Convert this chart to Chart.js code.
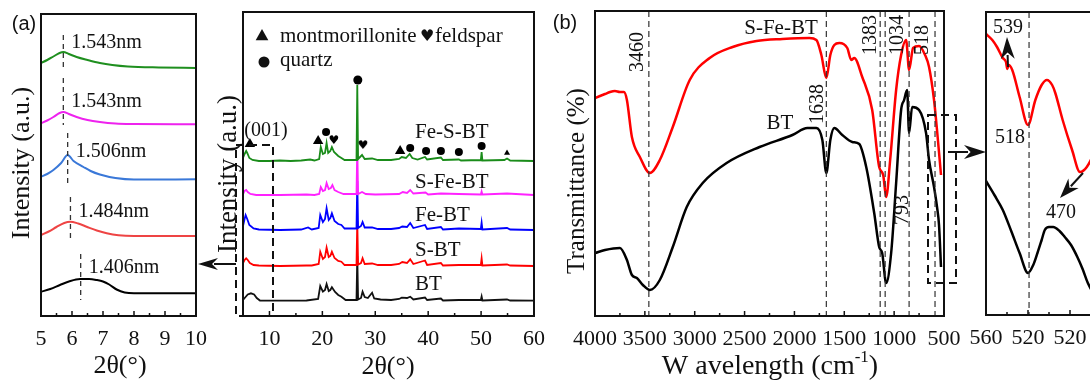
<!DOCTYPE html>
<html lang="en">
<head>
<meta charset="utf-8" />
<title>XRD and FTIR of bentonite samples</title>
<script src="https://cdnjs.cloudflare.com/ajax/libs/Chart.js/4.4.0/chart.umd.js"></script>
<style>
    body { margin: 0; width: 1090px; height: 381px; overflow: hidden; background: #fff; position: relative; }
    canvas { position: absolute; left: 0; top: 0; }
</style>
</head>
<body>
<canvas id="c1" width="1090" height="381"></canvas>
<canvas id="c2" width="1090" height="381"></canvas>
<canvas id="c3" width="1090" height="381"></canvas>
<canvas id="c4" width="1150" height="381"></canvas>
<script>
    // ---- (a) low angle XRD, 2theta vs intensity (a.u., offset)
    const lowGreen = [[5.0,253],[5.2,256],[5.4,259.5],[5.6,263],[5.72,264],[5.9,262],[6.15,259],[6.5,256],[6.9,253],[7.3,251],[7.8,249.5],[8.8,248.5],[10,248]];
    const lowMagenta = [[5.0,192.7],[5.2,195.5],[5.4,199],[5.6,203],[5.72,204],[5.9,202],[6.15,199],[6.5,196],[6.9,194],[7.4,192.5],[8,192],[10,191.7]];
    const lowBlue = [[5.0,139.3],[5.2,142],[5.4,146],[5.65,153],[5.86,161],[6.05,155],[6.37,149],[6.6,145],[6.9,141.5],[7.4,138],[8,136.5],[10,136.7]];
    const lowRed = [[5.0,81],[5.25,84.5],[5.5,89],[5.75,93],[5.94,94.3],[6.2,92.5],[6.47,89.3],[6.8,85.5],[7.12,82.7],[7.5,80.7],[8,80],[10,80]];
    const lowBlack = [[5.0,24.3],[5.3,27],[5.61,31],[5.9,34.5],[6.26,37],[6.55,37],[6.8,36],[7.0,34.5],[7.2,31.5],[7.44,26.5],[7.7,23.5],[8,22.7],[10,22.7]];
    const lowPeaks = [5.72, 5.72, 5.86, 5.95, 6.28];
    const lowLabels = ['1.543nm', '1.543nm', '1.506nm', '1.484nm', '1.406nm'];

    // ---- (a) wide angle XRD
    const xrdSamples = ['Fe-S-BT', 'S-Fe-BT', 'Fe-BT', 'S-BT', 'BT'];
    const xrdGreen = [[5.0,158],[5.3,162],[5.6,165],[5.8,163],[6.2,158],[6.8,156],[8,155],[10,155],[12,155.5],[14,155],[16,155.5],[17.7,156.5],[18.5,155.5],[19.4,157],[19.7,169],[20.1,162],[20.5,163],[20.8,173],[21.1,163],[21.5,165],[21.8,169],[22.2,164],[23,160],[23.6,158],[24.2,156],[26.45,156],[26.6,231],[26.75,157],[27.5,161],[28.0,157],[29.4,157.5],[30.5,156],[33,156],[34.5,157],[35.0,159],[35.8,158],[36.5,162],[37.0,158],[38,156.5],[39.4,159],[39.8,156.5],[42.4,158.5],[42.8,156],[45.8,156.5],[46.2,155.5],[49.95,156],[50.1,164],[50.25,155.5],[54.4,156],[54.9,157.5],[55.5,155.5],[60,155]];
    const xrdMagenta = [[5.0,122],[5.3,125],[5.6,126],[5.9,124],[6.4,122],[7.5,121],[12,121],[17,121.5],[18.5,121],[19.4,122],[19.7,129],[20.1,125],[20.5,126],[20.8,133],[21.2,127],[21.6,128],[21.9,131],[22.3,126],[23,124],[24,122],[26.45,122],[26.6,170],[26.75,122],[27.5,124],[28.2,122],[30,121.5],[34.5,122],[35.2,124],[36,123],[36.6,126],[37.2,122.5],[39.5,123.5],[40,121.5],[42.4,122.5],[45.8,122],[49.95,121.5],[50.1,124.5],[50.25,121.5],[54.9,122.5],[60,121]];
    const xrdBlue = [[5.0,90],[5.3,97],[5.5,101],[5.8,97],[6.2,91],[7,87.5],[8,86.5],[12,86],[16,86.5],[17.3,88.5],[18,86.5],[19.3,88],[19.6,101],[20.1,94],[20.5,97],[20.8,107.7],[21.2,96],[21.5,98],[21.8,102.7],[22.3,95],[23,92],[23.6,91],[24.2,87.5],[26.45,87.5],[26.6,135],[26.75,88],[27.3,90],[27.6,94],[28,88.5],[29.4,88.5],[30.5,87],[33,87],[34.5,88],[35.1,89.5],[36,89],[36.6,93],[37.2,88],[39.4,91],[39.8,87],[42.4,89],[42.8,86.5],[45.8,87.5],[49.95,87],[50.1,93.3],[50.25,86.5],[54.9,88],[55.5,86.5],[60,86]];
    const xrdRed = [[5.0,53],[5.3,56],[5.6,57.7],[5.9,56],[6.3,53],[7,51],[8,50.5],[12,50],[17,50.5],[18,50.5],[19.3,52],[19.6,64.3],[20.1,57],[20.5,59],[20.8,68.3],[21.2,59],[21.5,60],[21.8,64.3],[22.3,58],[23,55],[23.6,54.3],[24.2,51],[26.45,51],[26.6,95],[26.75,51.5],[27.3,53],[27.6,57.7],[28,52],[29.4,52.5],[30.5,51],[33,51],[34.5,52],[35.1,54],[36,53],[36.6,56.7],[37.2,52],[39.4,55.5],[39.8,51],[42.4,53],[42.8,50.5],[45.8,51],[49.95,51],[50.1,57.7],[50.25,50.5],[54.9,51.5],[55.5,50.5],[60,50]];
    const xrdBlack = [[5.0,16],[5.4,18.5],[5.9,21.5],[6.5,22.7],[7.1,21.5],[7.6,18],[8.2,15.5],[12,15.3],[17,15.5],[19.2,17],[19.6,30],[20.1,24.3],[20.5,26],[20.8,32],[21.2,25],[21.5,26],[21.8,28.7],[22.4,24],[23,21],[23.6,19.3],[24.4,16],[26.45,16],[26.6,60],[26.75,16.5],[27.3,18],[27.6,24.3],[28,19],[28.6,18],[29.4,23.3],[29.8,17.5],[31,16.5],[33,16],[34.5,17],[35,18.3],[36,18],[36.6,19.3],[37.2,16.5],[39.4,18.5],[39.8,16],[42.4,17.5],[42.8,15.5],[45.8,16],[49.95,16],[50.1,19.5],[50.25,15.5],[54.9,16.5],[55.5,15.5],[60,15.3]];
    const montmorillonite = [[6.3,172],[19.2,175],[34.7,165]];
    const montmorilloniteSmall = [[54.9,163]];
    const quartz = [[20.7,184],[36.6,168],[39.6,165],[42.4,165],[45.8,164],[50.1,170]];
    const quartzMain = [[26.7,236]];
    const feldspar = [[22.2,176],[27.7,171]];

    // ---- (b) FTIR, wavenumber vs transmittance (offset)
    const ftirRed = [[4000,218],[3900,222],[3850,224],[3800,225],[3750,224],[3710,224],[3680,216],[3630,179],[3550,159],[3450,143],[3350,156],[3220,189],[3050,236],[2850,258],[2620,269],[2380,275],[2120,277],[1850,278],[1780,276],[1730,261],[1680,238],[1640,261],[1600,271],[1550,273],[1470,268],[1430,256],[1400,258],[1320,239],[1220,206],[1150,149],[1110,141],[1080,119],[1040,156],[980,226],[930,261],[880,276],[850,246],[810,268],[750,270],[690,261],[650,249],[600,216],[570,186],[530,141]];
    const ftirBlack = [[4000,63],[3900,66],[3750,68],[3680,56],[3630,41],[3580,38],[3520,31],[3450,26],[3350,36],[3220,69],[3080,109],[2920,133],[2680,153],[2350,169],[2020,181],[1870,188],[1780,188],[1720,176],[1680,143],[1640,176],[1600,188],[1520,181],[1420,174],[1350,172],[1280,149],[1200,103],[1150,69],[1120,63],[1080,33],[1030,63],[980,133],[930,206],[900,216],[870,226],[850,183],[820,209],[750,206],[680,183],[650,156],[600,129],[570,109],[550,91],[530,49]];
    const ftirLines = [3460, 1680, 1140, 1090, 850, 590];
    const ftirPeakLabels = ['3460', '1638', '1383', '1034', '518', '793'];
    const zoomRed = [[560,281],[554,275],[549.5,268],[544,257],[541,253],[539.7,246],[538.5,250],[535,245],[528,218],[520,190],[513,215],[507,230],[502,235],[497,230],[494,222],[487,195],[478,165],[470.5,143],[464,148],[456,165],[448,190]];
    const zoomBlack = [[560,134],[552,120],[544,105],[536,84],[528,62],[520,42],[515,50],[511,62],[507,75],[504,85],[500,88],[496,88],[490,84],[485,78],[479,70],[473,58],[468,46],[463,32],[458,22]];
    const zoomTickValues = [560, 520, 480];
    const zoomTickText = ['560', '520', '520'];

    const SERIF = "'Liberation Serif', 'Times New Roman', serif";
    const SANS = "'Liberation Sans', Arial, sans-serif";
    const pts = arr => arr.map(p => ({ x: p[0], y: p[1] }));
    const deco = {};

    function heartImage(size) {
        const c = document.createElement('canvas');
        c.width = c.height = size;
        const g = c.getContext('2d');
        g.fillStyle = '#000';
        g.font = size + "px 'DejaVu Sans'";
        g.textAlign = 'center';
        g.textBaseline = 'middle';
        g.fillText('\u2665', size / 2, size / 2 + 1);
        return c;
    }

    function drawText(ctx, it) {
        const fam = it.family || SERIF;
        const big = it.size + 'px ' + fam;
        ctx.save();
        ctx.translate(it.x, it.y);
        if (it.rot) ctx.rotate(it.rot * Math.PI / 180);
        ctx.fillStyle = it.color || '#111';
        ctx.textBaseline = 'middle';
        ctx.font = big;
        if (it.sup) {
            const small = Math.round(it.size * 0.6) + 'px ' + fam;
            const w1 = ctx.measureText(it.t).width;
            const w3 = ctx.measureText(it.tail).width;
            ctx.font = small;
            const w2 = ctx.measureText(it.sup).width;
            const x0 = -(w1 + w2 + w3) / 2;
            ctx.textAlign = 'left';
            ctx.font = big;
            ctx.fillText(it.t, x0, 0);
            ctx.font = small;
            ctx.fillText(it.sup, x0 + w1, -it.size * 0.33);
            ctx.font = big;
            ctx.fillText(it.tail, x0 + w1 + w2, 0);
        } else {
            ctx.textAlign = it.align || 'center';
            ctx.fillText(it.t, 0, 0);
        }
        ctx.restore();
    }

    function drawArrow(ctx, x1, y1, x2, y2, hl, hw) {
        const a = Math.atan2(y2 - y1, x2 - x1);
        const c = Math.cos(a), s = Math.sin(a);
        const bx = x2 - hl * c, by = y2 - hl * s;
        ctx.setLineDash([]);
        ctx.lineWidth = 2;
        ctx.beginPath(); ctx.moveTo(x1, y1); ctx.lineTo(bx + 4 * c, by + 4 * s); ctx.stroke();
        ctx.beginPath();
        ctx.moveTo(x2, y2);
        ctx.lineTo(bx + hw * s, by - hw * c);
        ctx.lineTo(bx + 0.3 * hl * c, by + 0.3 * hl * s);
        ctx.lineTo(bx - hw * s, by + hw * c);
        ctx.closePath();
        ctx.fill();
    }

    // border box, inward ticks and annotations
    const decoPlugin = {
        id: 'deco',
        afterDraw(chart) {
            const d = deco[chart.canvas.id] || {};
            const ctx = chart.ctx, area = chart.chartArea, xs = chart.scales.x;
            ctx.save();
            ctx.strokeStyle = '#111';
            ctx.fillStyle = '#111';
            (d.vlines || []).forEach(v => {
                const px = xs.getPixelForValue(v.x);
                ctx.setLineDash(v.dash || [6, 4]);
                ctx.lineWidth = v.w || 1.2;
                ctx.strokeStyle = v.c || '#333';
                ctx.beginPath();
                ctx.moveTo(px, v.y1 !== undefined ? v.y1 : area.top);
                ctx.lineTo(px, v.y2 !== undefined ? v.y2 : area.bottom);
                ctx.stroke();
            });
            ctx.strokeStyle = '#111';
            (d.boxes || []).forEach(b => {
                ctx.setLineDash([8, 5]);
                ctx.lineWidth = 2;
                ctx.strokeRect(b[0], b[1], b[2] - b[0], b[3] - b[1]);
            });
            (d.arrows || []).forEach(a => drawArrow(ctx, a[0], a[1], a[2], a[3], a[4], a[5]));
            (d.shapes || []).forEach(s => {
                ctx.beginPath();
                if (s.type === 'tri') {
                    ctx.moveTo(s.x, s.y - s.r);
                    ctx.lineTo(s.x + s.r * 0.9, s.y + s.r * 0.6);
                    ctx.lineTo(s.x - s.r * 0.9, s.y + s.r * 0.6);
                    ctx.closePath();
                } else {
                    ctx.arc(s.x, s.y, s.r, 0, Math.PI * 2);
                }
                ctx.fill();
            });
            (d.texts || []).forEach(t => drawText(ctx, t));
            // frame
            ctx.setLineDash([]);
            ctx.lineWidth = 2;
            ctx.strokeRect(area.left, area.top, area.right - area.left, area.bottom - area.top);
            // inward ticks
            ctx.lineWidth = 1.5;
            xs.ticks.forEach(t => {
                const px = xs.getPixelForValue(t.value);
                const len = t.label !== '' ? 5 : 3;
                ctx.beginPath();
                ctx.moveTo(px, area.bottom);
                ctx.lineTo(px, area.bottom - len);
                ctx.stroke();
            });
            ctx.restore();
        }
    };

    function makeChart(id, box, xo, datasets) {
        const cv = document.getElementById(id);
        const W = cv.width, H = cv.height, axisH = 50;
        return new Chart(cv, {
            type: 'line',
            data: { datasets: datasets },
            options: {
                responsive: false,
                animation: false,
                devicePixelRatio: 1,
                layout: { padding: { left: box.left, top: box.top, right: W - box.right, bottom: H - box.bottom - axisH } },
                plugins: { legend: { display: false }, tooltip: { enabled: false } },
                elements: { point: { radius: 0 }, line: { cubicInterpolationMode: xo.smooth ? 'monotone' : 'default', tension: 0 } },
                scales: {
                    x: {
                        type: 'linear',
                        min: xo.min, max: xo.max, reverse: !!xo.reverse,
                        grid: { display: false, drawTicks: false },
                        border: { display: false },
                        ticks: {
                            stepSize: xo.step, autoSkip: false, maxRotation: 0, padding: 10,
                            color: '#111', font: { family: SERIF, size: 22 },
                            callback: xo.label
                        },
                        afterFit: s => { s.height = axisH; }
                    },
                    y: { display: false, min: 0, max: box.bottom - box.top }
                }
            },
            plugins: [decoPlugin]
        });
    }

    const line = (data, color, w) => ({ data: pts(data), borderColor: color, borderWidth: w, pointRadius: 0, fill: false });
    const marks = (data, style, r) => ({ data: pts(data), showLine: false, pointStyle: style, pointRadius: r, pointBackgroundColor: '#000', pointBorderColor: '#000', pointBorderWidth: 0 });

    // ---------- panel (a) left
    const box1 = { left: 41, right: 196, top: 14, bottom: 316 };
    const lowLabelY = [43, 102, 152, 212, 268];
    const lowDashY = [[35, 70], [78, 125], [133, 185], [197, 240], [254, 300]];
    deco.c1 = {
        vlines: lowPeaks.map((p, i) => ({ x: p, y1: lowDashY[i][0], y2: lowDashY[i][1], dash: [5, 4], w: 1.3 })),
        texts: [
            { t: '(a)', x: 24, y: 24, size: 20, family: SANS },
            { t: 'Intensity (a.u.)', x: 22, y: 163, size: 26, rot: -90 },
            { t: '2\u03b8(\u00b0)', x: 120, y: 366, size: 26 }
        ]
    };
    const c1 = makeChart('c1', box1, { min: 5, max: 10, step: 0.5, smooth: true, label: v => Number.isInteger(v) ? String(v) : '' }, [
        line(lowGreen, '#1f8f1f', 2),
        line(lowMagenta, '#ee22ee', 2),
        line(lowBlue, '#3a78d8', 2),
        line(lowRed, '#ee4444', 2),
        line(lowBlack, '#000000', 2)
    ]);
    // peak labels anchored to the peak positions
    lowLabels.forEach((t, i) => {
        deco.c1.texts.push({ t: t, x: c1.scales.x.getPixelForValue(lowPeaks[i]) + 8, y: lowLabelY[i], size: 20, align: 'left' });
    });
    c1.update('none');

    // ---------- panel (a) right
    const box2 = { left: 243, right: 534, top: 12, bottom: 316 };
    const sampleLabelY = [132, 182, 215, 250, 284];
    deco.c2 = {
        boxes: [[236, 145, 273, 316]],
        arrows: [[236, 264, 198, 264, 20, 6]],
        shapes: [{ type: 'tri', x: 262, y: 36, r: 7 }, { type: 'dot', x: 264, y: 62, r: 5.5 }],
        texts: [
            { t: 'montmorillonite', x: 280, y: 36, size: 21, align: 'left' },
            { t: '\u2665', x: 420, y: 37, size: 16, align: 'left', family: "'DejaVu Sans'" },
            { t: 'feldspar', x: 435, y: 36, size: 21, align: 'left' },
            { t: 'quartz', x: 280, y: 60, size: 21, align: 'left' },
            { t: '(001)', x: 266, y: 131, size: 20 },
            { t: 'Intensity (a.u.)', x: 229, y: 174, size: 27, rot: -90 },
            { t: '2\u03b8(\u00b0)', x: 388, y: 367, size: 26 }
        ].concat(xrdSamples.map((s, i) => ({ t: s, x: 415, y: sampleLabelY[i], size: 21, align: 'left' })))
    };
    makeChart('c2', box2, { min: 5, max: 60, step: 5, label: v => v % 10 === 0 ? String(v) : '' }, [
        marks(montmorillonite, 'triangle', 6),
        marks(montmorilloniteSmall, 'triangle', 3.5),
        marks(quartz, 'circle', 4),
        marks(quartzMain, 'circle', 4.5),
        marks(feldspar, heartImage(12), 5),
        line(xrdGreen, '#1a8c1a', 1.8),
        line(xrdMagenta, '#ff22ff', 1.8),
        line(xrdBlue, '#0000ff', 1.8),
        line(xrdRed, '#ff0000', 1.8),
        line(xrdBlack, '#111111', 1.8)
    ]);

    // ---------- panel (b) FTIR
    const box3 = { left: 595, right: 944, top: 11, bottom: 316 };
    const ftirLabelPos = [[638, 52], [818, 104], [871, 35], [898, 35], [923, 40], [903, 210]];
    deco.c3 = {
        vlines: ftirLines.map(x => ({ x: x })),
        boxes: [[928, 115, 956, 283]],
        arrows: [[948, 152, 986, 152, 22, 7]],
        texts: [
            { t: '(b)', x: 565, y: 23, size: 20, family: SANS },
            { t: 'S-Fe-BT', x: 781, y: 28, size: 21 },
            { t: 'BT', x: 780, y: 123, size: 21 },
            { t: 'Transmittance (%)', x: 577, y: 181, size: 25, rot: -90 },
            { t: 'W avelength (cm', sup: '-1', tail: ')', x: 770, y: 367, size: 28 }
        ].concat(ftirPeakLabels.map((t, i) => ({ t: t, x: ftirLabelPos[i][0], y: ftirLabelPos[i][1], size: 20, rot: -90 })))
    };
    makeChart('c3', box3, { min: 500, max: 4000, step: 250, reverse: true, smooth: true, label: v => v % 500 === 0 ? String(v) : '' }, [
        line(ftirRed, '#ff0000', 2.5),
        line(ftirBlack, '#000000', 2.5)
    ]);

    // ---------- panel (b) zoom
    const box4 = { left: 986, right: 1112, top: 12, bottom: 315 };
    deco.c4 = {
        vlines: [{ x: 519 }],
        arrows: [[1008, 67, 1007, 37, 22, 7], [1083, 173, 1060, 198, 20, 7]],
        texts: [
            { t: '539', x: 1008, y: 28, size: 20 },
            { t: '518', x: 1010, y: 138, size: 20 },
            { t: '470', x: 1061, y: 213, size: 20 }
        ]
    };
    makeChart('c4', box4, { min: 440, max: 560, step: 20, reverse: true, smooth: true, label: v => { const i = zoomTickValues.indexOf(v); return i >= 0 ? zoomTickText[i] : ''; } }, [
        line(zoomRed, '#ff0000', 2.5),
        line(zoomBlack, '#000000', 2.5)
    ]);
</script>
</body>
</html>
